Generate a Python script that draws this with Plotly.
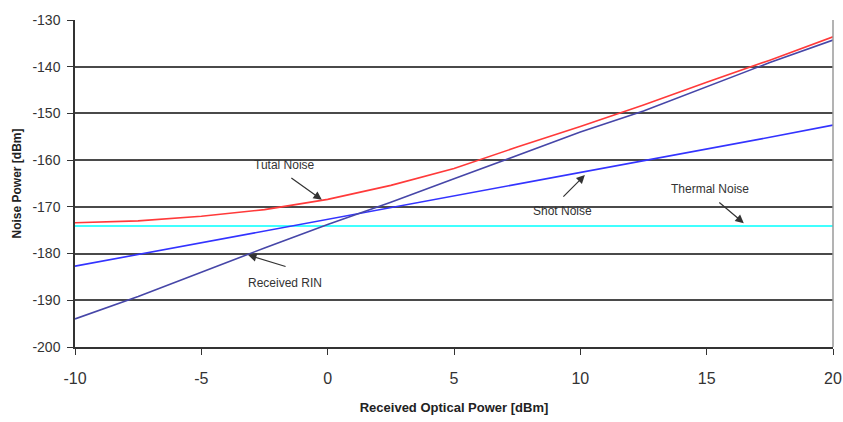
import plotly.graph_objects as go

power_dbm = [-10, -7.5, -5, -2.5, 0, 2.5, 5, 7.5, 10, 12.5, 15, 17.5, 20]
total_noise = [-173.4, -173.0, -172.0, -170.6, -168.4, -165.4, -161.8, -157.2, -152.8, -148.2, -143.3, -138.6, -133.6]
shot_noise = [-182.7, -180.2, -177.7, -175.2, -172.7, -170.2, -167.7, -165.2, -162.7, -160.1, -157.6, -155.1, -152.5]
rin_noise = [-194.0, -189.2, -184.0, -178.8, -173.8, -169.0, -164.0, -159.0, -154.0, -149.5, -144.3, -139.1, -134.3]
thermal_noise = [-174.1] * len(power_dbm)

y_ticks = [-200, -190, -180, -170, -160, -150, -140, -130]
y_labels = ["-200", "-190", "-180", "-170", "-160", "-150", "-140", "-130"]
x_ticks = [-10, -5, 0, 5, 10, 15, 20]
x_labels = ["-10", "-5", "0", "5", "10", "15", "20"]

FONT = "Liberation Sans Narrow, Arial Narrow, Liberation Sans, Arial"

fig = go.Figure()
fig.add_trace(go.Scatter(x=power_dbm, y=thermal_noise, mode="lines",
                         line=dict(color="#00ffff", width=1.6), name="Thermal Noise"))
fig.add_trace(go.Scatter(x=power_dbm, y=shot_noise, mode="lines",
                         line=dict(color="#3333ff", width=1.6), name="Shot Noise"))
fig.add_trace(go.Scatter(x=power_dbm, y=rin_noise, mode="lines",
                         line=dict(color="#4646a8", width=1.6), name="Received RIN"))
fig.add_trace(go.Scatter(x=power_dbm, y=total_noise, mode="lines",
                         line=dict(color="#ff3a3a", width=1.6), name="Total Noise"))

labels = [
    ("Tutal Noise", -1.69, -161.0),
    ("Received RIN", -1.69, -186.3),
    ("Shot Noise", 9.31, -170.9),
    ("Thermal Noise", 15.13, -166.2),
]
for t, x, y in labels:
    fig.add_annotation(x=x, y=y, text=t, showarrow=False,
                       font=dict(family=FONT, size=12, color="#333333"))

arrows = [
    (-0.23, -168.5, -32, -23),
    (-3.15, -180.3, 39, 12),
    (10.18, -163.2, -23, 23),
    (16.47, -173.5, -26, -22),
]
for x, y, ax, ay in arrows:
    fig.add_annotation(x=x, y=y, ax=ax, ay=ay, text="", showarrow=True,
                       arrowhead=2, arrowsize=1.4, arrowwidth=1.2, arrowcolor="#333333")

fig.add_shape(type="line", xref="paper", yref="paper", x0=1, x1=1, y0=0, y1=1,
              line=dict(color="#9a9a9a", width=1.5))

fig.update_layout(
    width=843, height=422,
    margin=dict(l=75, r=10, t=20, b=75),
    paper_bgcolor="white", plot_bgcolor="white",
    showlegend=False,
    font=dict(family=FONT, color="#333333"),
)
fig.update_xaxes(
    range=[-10, 20], tickvals=x_ticks, ticktext=x_labels, ticks="outside", ticklen=6,
    tickcolor="#333333", automargin=False,
    showline=True, linecolor="#333333", linewidth=1.5, showgrid=False, zeroline=False,
    tickfont=dict(family=FONT, size=16, color="#333333"), ticklabelstandoff=10,
    title=dict(text="<b>Received Optical Power [dBm]</b>", standoff=17,
               font=dict(family=FONT, size=13, color="#222222")),
)
fig.update_yaxes(
    range=[-200, -130], tickvals=y_ticks, ticktext=y_labels, ticks="outside", ticklen=6,
    tickcolor="#333333", automargin=False,
    showline=True, linecolor="#333333", linewidth=1.5,
    showgrid=True, gridcolor="#4a4a4a", gridwidth=1.5, zeroline=False,
    tickfont=dict(family=FONT, size=14, color="#333333"), ticklabelstandoff=4,
    title=dict(text="<b>Noise Power [dBm]</b>", standoff=8,
               font=dict(family=FONT, size=12, color="#222222")),
)

fig.write_html("out.html")
